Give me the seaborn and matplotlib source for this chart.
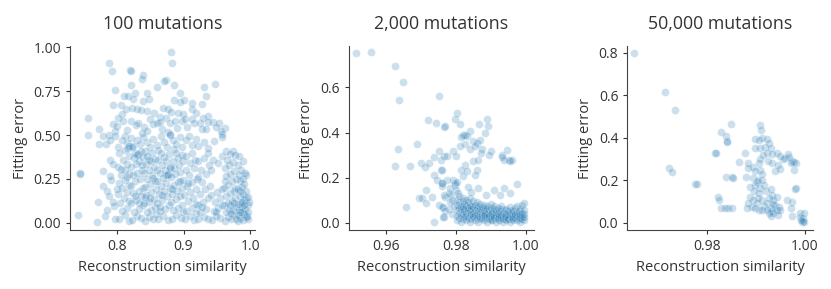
import numpy as np
import pandas as pd
import seaborn as sns
import matplotlib.pyplot as plt

# ---- data ----
titles = ['100 mutations', '2,000 mutations', '50,000 mutations']

# 100 mutations: (reconstruction similarity, fitting error)
pts_100 = [
    # upper part
    (.881, .975), (.788, .910), (.883, .910), (.793, .864), (.820, .870), (.821, .866), (.839, .841), (.838, .818),
    (.821, .788), (.873, .813), (.871, .809), (.886, .784), (.861, .776), (.797, .759), (.894, .740), (.931, .776),
    (.947, .793), (.934, .723), (.828, .742), (.845, .740), (.811, .721), (.817, .723), (.825, .704), (.840, .694),
    (.848, .704), (.885, .698), (.895, .690), (.900, .700), (.913, .685), (.927, .675), (.795, .669), (.806, .671),
    (.814, .646), (.823, .654), (.831, .646), (.869, .656), (.876, .646), (.881, .633), (.856, .627), (.845, .637),
    (.836, .642), (.912, .646), (.919, .627), (.808, .618), (.864, .602), (.892, .623), (.899, .618), (.937, .608),
    (.944, .574), (.757, .597), (.774, .537), (.794, .560), (.800, .551), (.802, .598), (.810, .579), (.822, .579),
    (.829, .555), (.832, .566), (.841, .547), (.850, .589), (.855, .560), (.860, .570), (.865, .574), (.873, .598),
    (.880, .570), (.887, .579), (.897, .579), (.902, .589), (.912, .589), (.916, .570), (.924, .570), (.929, .598),
    (.937, .574), (.953, .570), (.962, .541), (.956, .522), (.949, .547), (.798, .522), (.815, .530), (.845, .525),
    (.868, .535), (.890, .540), (.905, .545), (.927, .532), (.877, .515), (.838, .512), (.957, .503), (.934, .532),
    # 0.4 - 0.5
    (.757, .499), (.773, .451), (.784, .451), (.788, .499), (.779, .493), (.797, .493), (.790, .470), (.802, .429),
    (.812, .493), (.808, .474), (.816, .455), (.825, .436), (.817, .426), (.822, .485), (.830, .470), (.835, .450),
    (.840, .490), (.846, .462), (.850, .430), (.855, .478), (.860, .445), (.866, .495), (.870, .460), (.875, .432),
    (.880, .505), (.880, .500), (.884, .472), (.889, .448), (.894, .488), (.898, .430), (.903, .470), (.908, .495),
    (.912, .445), (.918, .480), (.922, .438), (.930, .460), (.936, .425), (.945, .465), (.958, .490), (.964, .407),
    (.974, .407), (.969, .394), (.977, .388), (.862, .415), (.842, .410), (.886, .418),
    # x < 0.80
    (.779, .293), (.779, .207), (.790, .356), (.794, .333), (.772, .117), (.782, .040), (.770, .002), (.742, .044),
    (.745, .285), (.745, .280), (.786, .178), (.792, .245), (.788, .150), (.796, .095), (.785, .070), (.798, .020),
    (.795, .120), (.790, .265),
    # 0.80 - 0.82
    (.803, .020), (.812, .045), (.818, .008), (.808, .065), (.815, .085), (.805, .110), (.819, .125), (.811, .140),
    (.802, .165), (.816, .175), (.808, .195), (.804, .225), (.818, .215), (.812, .245), (.806, .270), (.819, .280),
    (.813, .300), (.802, .320), (.816, .335), (.809, .360), (.819, .380), (.804, .395), (.813, .415), (.818, .440),
    (.807, .305), (.815, .260), (.801, .190),
    # 0.82 - 0.84
    (.823, .015), (.831, .040), (.837, .025), (.826, .060), (.834, .080), (.839, .100), (.822, .115), (.829, .130),
    (.836, .150), (.825, .170), (.833, .180), (.839, .200), (.821, .210), (.828, .235), (.835, .250), (.824, .270),
    (.831, .285), (.838, .300), (.822, .315), (.829, .335), (.834, .350), (.826, .370), (.830, .385), (.832, .390),
    (.828, .400), (.836, .410), (.823, .430), (.839, .375), (.827, .155), (.833, .115), (.838, .330),
    # 0.84 - 0.86
    (.842, .010), (.848, .035), (.855, .020), (.845, .060), (.852, .075), (.858, .090), (.841, .110), (.849, .120),
    (.856, .135), (.844, .160), (.851, .175), (.859, .190), (.843, .205), (.850, .220), (.857, .235), (.846, .250),
    (.853, .270), (.841, .285), (.849, .300), (.856, .320), (.844, .335), (.851, .350), (.858, .365), (.846, .380),
    (.853, .395), (.848, .355), (.855, .255), (.842, .145), (.859, .050), (.850, .140), (.860, .300),
    # 0.86 - 0.88
    (.862, .020), (.869, .040), (.876, .015), (.864, .065), (.872, .080), (.878, .100), (.861, .115), (.868, .130),
    (.875, .150), (.863, .165), (.871, .180), (.879, .195), (.866, .210), (.873, .225), (.861, .240), (.869, .255),
    (.877, .270), (.864, .285), (.872, .300), (.879, .310), (.867, .330), (.874, .350), (.862, .360), (.870, .375),
    (.878, .390), (.866, .400), (.873, .270), (.876, .275), (.880, .320), (.868, .160), (.865, .090),
    # 0.88 - 0.90
    (.882, .020), (.889, .045), (.896, .025), (.884, .070), (.891, .085), (.898, .100), (.881, .120), (.888, .135),
    (.895, .150), (.883, .165), (.890, .180), (.897, .200), (.885, .215), (.892, .230), (.899, .245), (.881, .260),
    (.887, .275), (.894, .290), (.886, .310), (.893, .330), (.899, .350), (.884, .350), (.891, .370), (.897, .385),
    (.888, .400), (.895, .235), (.882, .190), (.899, .060),
    # 0.90 - 0.92
    (.902, .020), (.909, .040), (.916, .015), (.904, .065), (.912, .085), (.919, .105), (.906, .125), (.914, .140),
    (.901, .160), (.910, .175), (.918, .190), (.905, .210), (.913, .230), (.920, .250), (.908, .270), (.903, .300),
    (.915, .310), (.909, .340), (.917, .360), (.904, .380), (.912, .400), (.906, .225), (.918, .055),
    # 0.92 - 0.94
    (.922, .020), (.930, .035), (.937, .020), (.925, .060), (.933, .080), (.921, .100), (.929, .120), (.936, .140),
    (.924, .165), (.932, .190), (.939, .210), (.927, .230), (.921, .260), (.934, .280), (.926, .300), (.938, .330),
    (.922, .350), (.931, .370), (.936, .400), (.928, .090),
    # 0.94 - 0.96
    (.942, .015), (.948, .040), (.955, .025), (.945, .065), (.952, .085), (.958, .100), (.947, .120), (.955, .140),
    (.941, .160), (.950, .175), (.944, .360), (.952, .340), (.958, .380), (.941, .300), (.957, .190), (.948, .060),
    # 0.96 - 0.98
    (.962, .010), (.966, .030), (.971, .020), (.976, .045), (.963, .060), (.968, .075), (.974, .070), (.979, .090),
    (.961, .100), (.966, .115), (.972, .125), (.977, .140), (.963, .155), (.969, .170), (.975, .180), (.961, .200),
    (.967, .215), (.973, .235), (.978, .250), (.964, .265), (.970, .280), (.976, .295), (.962, .310), (.968, .330),
    (.974, .345), (.965, .360), (.971, .055), (.978, .020), (.969, .100), (.975, .110), (.962, .240), (.977, .195),
    # 0.98 - 1.00
    (.981, .010), (.985, .025), (.989, .015), (.993, .030), (.982, .045), (.987, .060), (.991, .050), (.995, .040),
    (.983, .075), (.988, .090), (.992, .080), (.981, .105), (.986, .115), (.990, .130), (.994, .140), (.984, .150),
    (.989, .165), (.993, .180), (.982, .190), (.987, .205), (.991, .220), (.985, .235), (.989, .250), (.983, .270),
    (.994, .270), (.992, .285), (.997, .146), (.996, .100), (.997, .060), (.996, .020), (.988, .120), (.990, .100),
    (.985, .180), (.984, .060), (.998, .120), (.986, .300), (.981, .330), (.989, .350), (.983, .380),
]

# 2,000 mutations: scattered points
pts_2000 = [
    (.9515, .752), (.9559, .759), (.9626, .694), (.9649, .622), (.9639, .543), (.9752, .5625), (.9720, .455),
    (.9744, .444), (.9766, .426), (.9634, .328), (.9690, .351), (.9626, .250), (.9669, .253), (.9702, .265),
    (.9712, .247), (.9725, .265), (.9752, .320), (.9737, .292), (.9757, .280), (.9766, .295), (.9757, .235),
    (.9737, .213), (.9747, .190), (.9761, .176), (.9714, .146), (.9694, .109), (.9704, .109), (.9733, .113),
    (.9716, .087), (.9658, .069), (.9737, .005), (.9752, .079), (.9761, .071), (.9766, .027), (.9761, .161),
    (.9766, .124), (.9804, .485), (.9798, .458), (.9812, .440), (.9769, .429), (.9867, .436), (.9890, .458),
    (.9893, .429), (.9821, .391), (.9831, .384), (.9826, .388), (.9816, .381), (.9840, .406), (.9884, .399),
    (.9850, .362), (.9860, .354), (.9869, .369), (.9855, .339), (.9827, .347), (.9842, .325), (.9812, .339),
    (.9876, .325), (.9900, .320), (.9895, .302), (.9871, .307), (.9793, .320), (.9802, .295), (.9774, .295),
    (.9932, .302), (.9946, .321), (.9951, .280), (.9961, .280), (.9956, .275), (.9937, .280), (.9932, .290),
    (.9850, .272), (.9865, .280), (.9827, .258), (.9816, .235), (.9831, .228), (.9821, .205), (.9860, .235),
    (.9855, .213), (.9760, .235), (.9774, .190), (.9760, .176), (.9793, .190), (.9798, .168), (.9784, .154),
    (.9769, .116), (.9764, .071), (.9788, .124), (.9802, .146), (.9807, .131), (.9764, .027), (.9975, .173),
    (.9910, .146), (.9939, .154), (.9865, .154), (.9836, .158), (.9845, .138), (.9888, .124), (.9926, .124),
    (.9955, .131), (.9994, .087), (.9799, .176), (.9803, .180), (.9780, .060), (.9790, .040), (.9785, .090),
    (.9770, .050), (.9790, .100), (.9780, .130), (.9795, .075),
]
# 2,000 mutations: dense band near zero error (column x, errors in that column)
band_sim = [.9805, .981, .9815, .982, .9825, .983, .9835, .984, .9845, .985, .9855, .986, .9865,
            .987, .9875, .988, .9885, .989, .9895, .990, .9905, .991, .9915, .992, .9925, .993,
            .9935, .994, .9945, .995, .9955, .996, .9965, .997, .9975, .998, .9985, .999, .9995]
band_err = [
    [.01, .03, .055, .08, .10], [.02, .045, .065, .09, .12], [.005, .035, .06, .075],
    [.015, .04, .07, .095, .11], [.025, .05, .085, .06], [.01, .03, .045, .075, .10],
    [.02, .055, .065, .09], [.005, .035, .05, .08, .11], [.015, .04, .06, .075],
    [.025, .045, .07, .095, .03], [.01, .035, .055, .08], [.02, .04, .065, .09],
    [.005, .03, .05, .075], [.015, .045, .06, .085, .025], [.02, .035, .055, .07],
    [.01, .03, .05, .08, .04], [.02, .045, .065, .035], [.005, .025, .04, .06, .075],
    [.015, .035, .055, .03], [.02, .04, .065, .085, .01], [.01, .03, .05, .045],
    [.02, .035, .06, .075, .025], [.005, .03, .045, .055], [.015, .04, .065, .02],
    [.01, .025, .05, .035], [.02, .04, .06, .03, .075], [.005, .025, .045, .015],
    [.015, .035, .055, .03], [.01, .04, .025, .06], [.02, .035, .05, .015],
    [.005, .03, .045, .07], [.015, .04, .025, .055], [.01, .03, .05, .02],
    [.02, .04, .065, .035], [.01, .03, .045, .075], [.015, .025, .05, .04],
    [.005, .035, .06, .02], [.015, .03, .045, .08], [.01, .025, .04, .055],
]

# 50,000 mutations
pts_50000 = [
    (.9651, .800), (.9714, .616), (.9736, .529), (.9817, .327), (.9723, .259), (.9730, .237), (.9775, .184),
    (.9780, .184), (.9823, .122), (.9825, .106), (.9849, .463), (.9830, .428), (.9840, .409), (.9842, .384),
    (.9841, .378), (.9818, .329), (.9866, .284), (.9878, .329), (.9909, .460), (.9910, .436), (.9899, .392),
    (.9906, .389), (.9912, .397), (.9923, .392), (.9926, .374), (.9919, .358), (.9930, .350), (.9909, .350),
    (.9899, .350), (.9923, .327), (.9933, .323), (.9943, .327), (.9950, .314), (.9960, .303), (.9965, .323),
    (.9974, .290), (.9981, .280), (.9978, .287), (.9971, .280), (.9885, .282), (.9895, .264), (.9906, .280),
    (.9909, .248), (.9899, .245), (.9885, .256), (.9933, .282), (.9940, .245), (.9950, .251), (.9945, .272),
    (.9978, .248), (.9840, .215), (.9851, .215), (.9853, .212), (.9880, .215), (.9895, .209), (.9902, .193),
    (.9912, .201), (.9916, .177), (.9909, .162), (.9920, .151), (.9906, .138), (.9981, .165), (.9979, .160),
    (.9930, .157), (.9933, .130), (.9926, .115), (.9889, .122), (.9895, .107), (.9902, .094), (.9885, .091),
    (.9892, .075), (.9882, .068), (.9912, .107), (.9916, .079), (.9923, .091), (.9936, .107), (.9943, .120),
    (.9940, .083), (.9947, .075), (.9964, .107), (.9974, .099), (.9830, .068), (.9837, .068), (.9844, .068),
    (.9851, .068), (.9899, .068), (.9906, .060), (.9912, .060), (.9930, .072), (.9933, .056), (.9936, .044),
    (.9943, .060), (.9950, .060), (.9926, .044), (.9971, .068), (.9974, .032), (.9991, .044), (.9998, .044),
    (.9991, .028), (.9997, .021), (.9995, .005), (.9999, .005), (.9996, .008), (.9993, .012), (.9930, .032),
    (.9945, .035), (.9905, .200), (.9898, .180), (.9913, .230), (.9908, .300), (.9914, .320), (.9925, .290),
    (.9888, .170), (.9905, .115), (.9922, .060), (.9935, .090), (.9955, .300), (.9968, .310), (.9896, .150),
]

x_ticks = [[0.8, 0.9, 1.0], [0.96, 0.98, 1.00], [0.98, 1.00]]
y_ticks = [[0.0, 0.25, 0.5, 0.75, 1.0], [0.0, 0.2, 0.4, 0.6], [0.0, 0.2, 0.4, 0.6, 0.8]]
x_fmt = ['{:.1f}', '{:.2f}', '{:.2f}']
y_fmt = ['{:.2f}', '{:.1f}', '{:.1f}']
x_lims = [(0.730, 1.0075), (0.9494, 1.0024), (0.9638, 1.0016)]
y_lims = [(-0.042, 1.008), (-0.0326, 0.784), (-0.034, 0.832)]

# ---- build frames ----
band_pts = [(x, e) for x, col in zip(band_sim, band_err) for e in col]
frames = []
for pts in [pts_100, pts_2000 + band_pts, pts_50000]:
    sim, err = zip(*pts)
    frames.append(pd.DataFrame({'sim': sim, 'err': err}))

sns.set_style('ticks')
plt.rcParams['font.family'] = ['Open Sans', 'DejaVu Sans']
plt.rcParams['text.color'] = '#333333'
plt.rcParams['axes.labelcolor'] = '#333333'
plt.rcParams['xtick.color'] = '#333333'
plt.rcParams['ytick.color'] = '#333333'

fig, axes = plt.subplots(1, 3, figsize=(8.31, 2.89), dpi=100)
fig.subplots_adjust(left=0.0842, right=0.978, bottom=0.204, top=0.841, wspace=0.503)

for i, ax in enumerate(axes):
    sns.scatterplot(data=frames[i], x='sim', y='err', ax=ax, color='#1f77b4',
                    alpha=0.23, s=32, edgecolor='white', linewidth=0.5)
    ax.set_xlim(*x_lims[i])
    ax.set_ylim(*y_lims[i])
    ax.set_xticks(x_ticks[i])
    ax.set_xticklabels([x_fmt[i].format(v) for v in x_ticks[i]])
    ax.set_yticks(y_ticks[i])
    ax.set_yticklabels([y_fmt[i].format(v) for v in y_ticks[i]])
    ax.tick_params(labelsize=10, length=3, width=0.8)
    ax.set_xlabel('Reconstruction similarity', fontsize=10.5)
    ax.set_ylabel('Fitting error', fontsize=10.5)
    ax.set_title(titles[i], fontsize=12.8, pad=12)
    for sp in ['left', 'bottom']:
        ax.spines[sp].set_color('#444444')
sns.despine(fig=fig)

fig.savefig('out.png', dpi=100)
